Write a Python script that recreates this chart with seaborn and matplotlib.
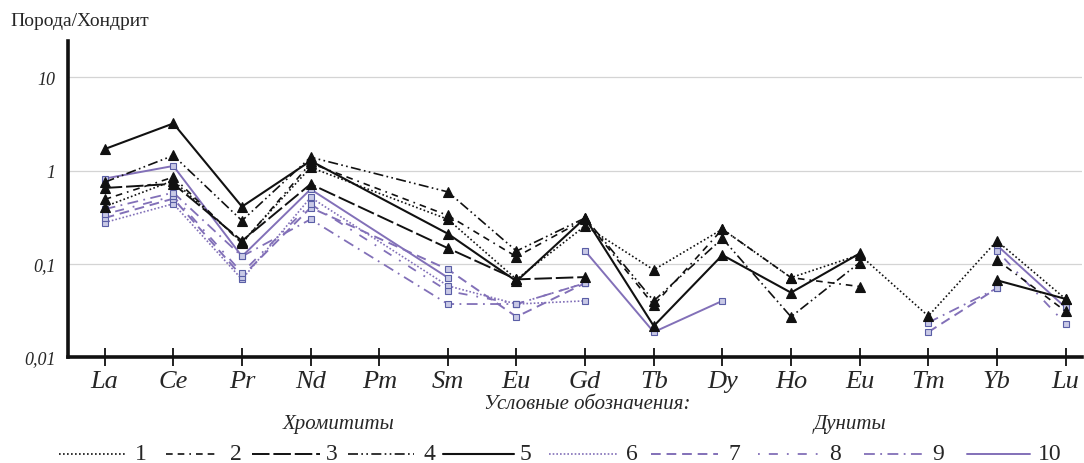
import numpy as np
import pandas as pd
import matplotlib
matplotlib.use("Agg")
import matplotlib.pyplot as plt
from matplotlib.lines import Line2D
import seaborn as sns

# REE, chondrite-normalised (labels as in the source figure)
elements = ["La", "Ce", "Pr", "Nd", "Pm", "Sm", "Eu", "Gd", "Tb", "Dy", "Ho", "Eu", "Tm", "Yb", "Lu"]
nan = np.nan

# chromitites
s1 = [0.41, 0.78, 0.17, 1.08, nan, 0.30, 0.068, 0.255, 0.086, 0.235, 0.071, 0.125, 0.0275, 0.176, 0.042]
s2 = [0.49, 0.85, 0.165, 1.20, nan, 0.33, 0.119, 0.30, 0.036, 0.235, 0.071, 0.057, nan, 0.11, 0.031]
s3 = [0.65, 0.72, 0.176, 0.716, nan, 0.147, 0.068, 0.072, nan, nan, nan, nan, nan, nan, nan]
s4 = [0.75, 1.45, 0.29, 1.39, nan, 0.59, 0.137, 0.31, 0.040, 0.187, 0.027, 0.103, nan, nan, nan]
s5 = [1.70, 3.2, 0.41, 1.27, nan, 0.21, 0.065, 0.31, 0.0215, 0.124, 0.049, 0.129, nan, 0.0665, 0.042]
# dunites
s6 = [0.277, 0.44, 0.068, 0.515, nan, 0.058, 0.037, 0.040, nan, nan, nan, nan, nan, nan, nan]
s7 = [0.31, 0.50, 0.073, 0.40, nan, 0.087, 0.027, 0.062, nan, nan, nan, nan, 0.0185, 0.0545, nan]
s8 = [0.34, 0.53, 0.08, 0.436, nan, 0.051, 0.037, 0.062, nan, nan, nan, nan, nan, 0.138, 0.0227]
s9 = [0.385, 0.58, 0.12, 0.30, nan, 0.037, 0.037, 0.062, nan, nan, nan, nan, 0.0234, 0.0545, nan]
s10 = [0.82, 1.12, 0.12, 0.63, nan, 0.071, nan, 0.137, 0.0185, 0.040, nan, nan, nan, 0.158, 0.034]

series = [s1, s2, s3, s4, s5, s6, s7, s8, s9, s10]
names = [str(i) for i in range(1, 11)]

black = "#111111"
purple = "#8270b8"
styles = [
    dict(color=black, ls=(0, (1, 1.4)), lw=1.2),
    dict(color=black, ls=(0, (4, 3, 4, 3, 1, 3)), lw=1.2),
    dict(color=black, ls=(0, (9, 2)), lw=1.4),
    dict(color=black, ls=(0, (6, 2, 1, 2, 1, 2)), lw=1.2),
    dict(color=black, ls="-", lw=1.5),
    dict(color=purple, ls=(0, (1, 1.2)), lw=1.2),
    dict(color=purple, ls=(0, (5, 3)), lw=1.4),
    dict(color=purple, ls=(0, (1, 5, 5, 5)), lw=1.3),
    dict(color=purple, ls=(0, (6, 3, 1, 3)), lw=1.3),
    dict(color=purple, ls="-", lw=1.4),
]


def segments(vals):
    # Pm is not analysed: lines are bridged over it, other gaps break the line
    segs, cur = [], []
    for i, v in enumerate(vals):
        if i == 4:
            continue
        if np.isnan(v):
            if cur:
                segs.append(cur)
            cur = []
        else:
            cur.append((i, v))
    if cur:
        segs.append(cur)
    return segs


sns.set_theme(style="white")
plt.rcParams["font.family"] = ["Liberation Serif", "DejaVu Serif"]

W, H = 1084, 464
fig = plt.figure(figsize=(W / 100, H / 100), dpi=100)
ax = fig.add_axes([68 / W, 1 - 358 / H, (1082 - 68) / W, (358 - 41.7) / H])
ax.set_yscale("log")

for k, vals in enumerate(series):
    st = styles[k]
    is_black = k < 5
    for seg in segments(vals):
        df = pd.DataFrame(seg, columns=["x", "y"])
        sns.lineplot(data=df, x="x", y="y", ax=ax, estimator=None, sort=False,
                     color=st["color"], linestyle=st["ls"], linewidth=st["lw"],
                     marker="^" if is_black else "s",
                     markersize=7 if is_black else 4.5,
                     markerfacecolor=black if is_black else "#c9c9e6",
                     markeredgecolor=black if is_black else "#5a5ea6",
                     markeredgewidth=0.8, zorder=3 if is_black else 2)

ax.set_xlim(-0.535, 14.24)
ax.set_ylim(0.01, 24.7)
ax.set_xlabel("")
ax.set_ylabel("")

ax.set_xticks(range(len(elements)))
ax.set_xticklabels(elements, fontsize=19, fontstyle="italic")
ax.tick_params(axis="x", direction="inout", length=13, width=1.3, color=black, pad=3, bottom=True)

ax.yaxis.set_minor_locator(matplotlib.ticker.NullLocator())
ax.set_yticks([0.01, 0.1, 1, 10])
ax.set_yticklabels(["0,01", "0,1", "1", "10"], fontsize=13, fontstyle="italic")
ax.tick_params(axis="y", length=0, pad=9)

for yv in [0.1, 1, 10]:
    ax.axhline(yv, color="#d4d4d4", lw=0.9, zorder=0)

for side in ["top", "right"]:
    ax.spines[side].set_visible(False)
for side in ["left", "bottom"]:
    ax.spines[side].set_color(black)
    ax.spines[side].set_linewidth(2.6)

fig.text(10 / W, 1 - 22 / H, "Порода/Хондрит", fontsize=14, va="center", ha="left")

# legend, drawn by hand
fig.text(587 / W, 1 - 405 / H, "Условные обозначения:", fontsize=15, fontstyle="italic",
         ha="center", va="center")
fig.text(339 / W, 1 - 424 / H, "Хромититы", fontsize=15, fontstyle="italic", ha="center", va="center")
fig.text(850 / W, 1 - 424 / H, "Дуниты", fontsize=15, fontstyle="italic", ha="center", va="center")

leg_lines = [(59, 127), (166, 216), (252, 320), (348, 414), (443, 514),
             (549, 618), (651, 718), (758, 822), (864, 925), (967, 1030)]
leg_nums = [141, 236, 332, 429, 525, 632, 734, 835, 938, 1050]
ly = 1 - 455 / H
for k in range(10):
    x0, x1 = leg_lines[k]
    st = styles[k]
    fig.add_artist(Line2D([x0 / W, x1 / W], [ly, ly], transform=fig.transFigure,
                          color=st["color"], linestyle=st["ls"], linewidth=st["lw"]))
    fig.text(leg_nums[k] / W, ly, names[k], fontsize=17, ha="center", va="center")

fig.savefig("out.png", dpi=100)
